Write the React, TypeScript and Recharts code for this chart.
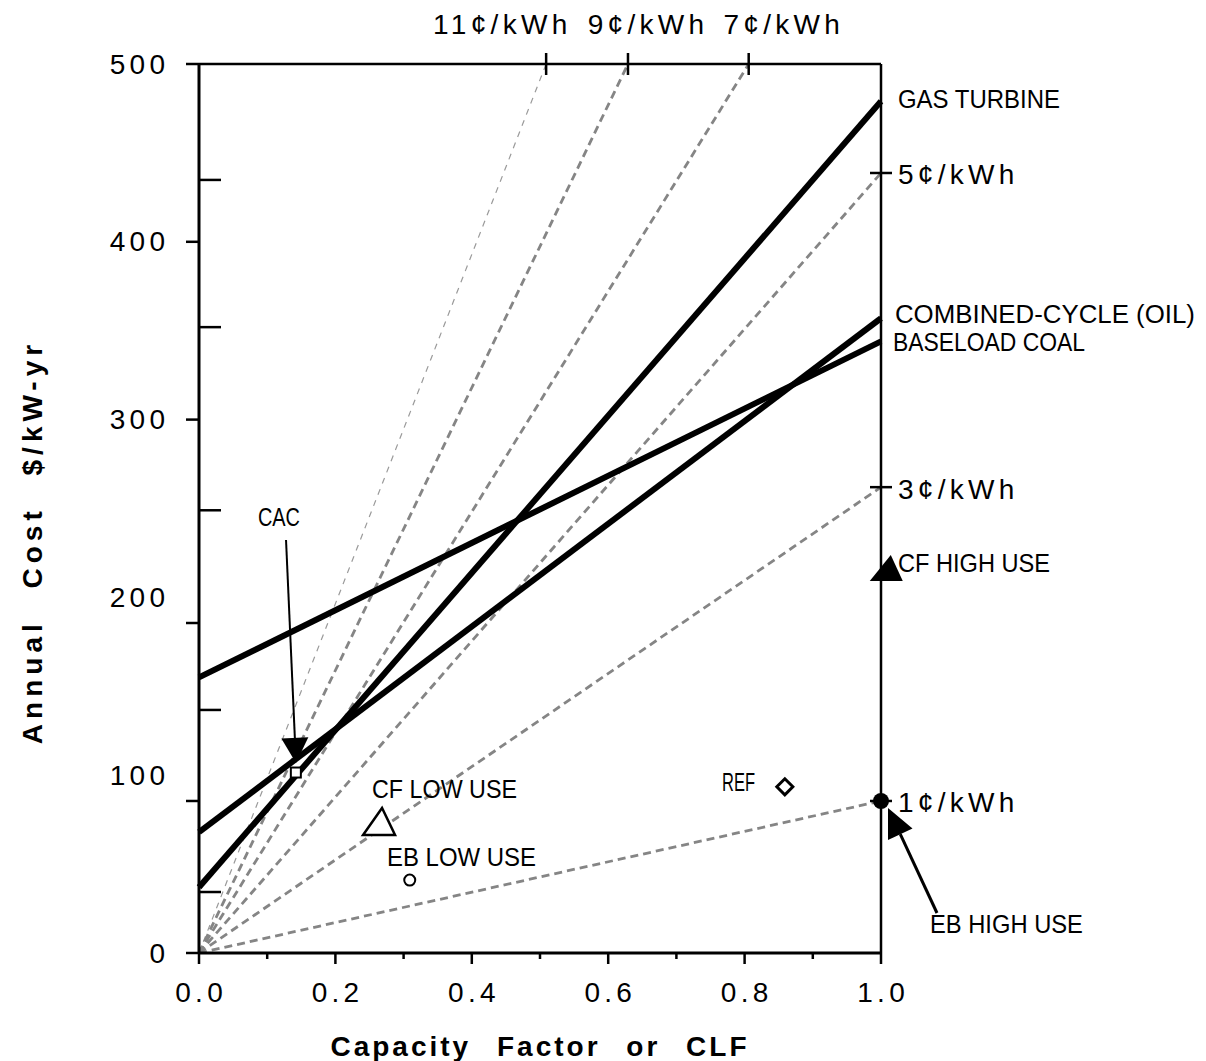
import React from "react";
import {
  ComposedChart,
  Line,
  ReferenceDot,
  ReferenceLine,
  Scatter,
  XAxis,
  YAxis,
} from "recharts";

// bottom axis: capacity factor
const cfTicks = [0, 0.1, 0.2, 0.3, 0.4, 0.5, 0.6, 0.7, 0.8, 0.9, 1.0];

// left axis: annual cost, labels and the (irregular) tick marks of the original
const costLabels = [0, 100, 200, 300, 400, 500];
const costMajorMarks = [0, 85.5, 185.6, 300, 400, 500];
const costMinorMarks = [34.3, 136.7, 249, 352, 434.8];

// price lines hit the top edge / right edge here
const topPriceTicks = [0.509, 0.629, 0.806];
const topPriceLabels = ["11¢/kWh", "9¢/kWh", "7¢/kWh"];
const rightPriceTicks = [438.7, 262, 85.5];
const rightPriceLabels = ["5¢/kWh", "3¢/kWh", "1¢/kWh"];

// generation technologies
const gasTurbine = [
  { cf: 0, cost: 37 },
  { cf: 1, cost: 479 },
];
const combinedCycle = [
  { cf: 0, cost: 68 },
  { cf: 1, cost: 357 },
];
const baseloadCoal = [
  { cf: 0, cost: 155 },
  { cf: 1, cost: 344 },
];

// constant-price lines from the origin
const price1 = [
  { cf: 0, cost: 0 },
  { cf: 1, cost: 85.5 },
];
const price3 = [
  { cf: 0, cost: 0 },
  { cf: 1, cost: 262 },
];
const price5 = [
  { cf: 0, cost: 0 },
  { cf: 1, cost: 438.7 },
];
const price7 = [
  { cf: 0, cost: 0 },
  { cf: 0.806, cost: 500 },
];
const price9 = [
  { cf: 0, cost: 0 },
  { cf: 0.629, cost: 500 },
];
const price11 = [
  { cf: 0, cost: 0 },
  { cf: 0.509, cost: 500 },
];

// end uses
const cacPoint = [{ cf: 0.142, cost: 101.5 }];
const cfLowUse = [{ cf: 0.264, cost: 74 }];
const ebLowUse = [{ cf: 0.309, cost: 41 }];
const refPoint = [{ cf: 0.859, cost: 93.5 }];
const ebHighUse = [{ cf: 1.0, cost: 85.5 }];
const cfHighUse = { cf: 1.007, cost: 216.5 };

// arrows: tail -> tip
const cacArrow = [
  { cf: 0.1276, cost: 232.3 },
  { cf: 0.1422, cost: 106.9 },
];
const ebArrow = [
  { cf: 1.0821, cost: 22.5 },
  { cf: 1.0103, cost: 81.6 },
];

const noteTexts = [
  "GAS TURBINE",
  "COMBINED-CYCLE (OIL)",
  "BASELOAD COAL",
  "CF HIGH USE",
  "EB HIGH USE",
  "CAC",
  "CF LOW USE",
  "EB LOW USE",
  "REF",
];

// layout of the annotation texts (left edge, vertical middle) and their widths
const NOTE_ANCHORS = [
  { cf: 1.0249, cost: 480.3 },
  { cf: 1.0205, cost: 359.4 },
  { cf: 1.0176, cost: 343.6 },
  { cf: 1.0249, cost: 219.3 },
  { cf: 1.0718, cost: 16.3 },
  { cf: 0.0865, cost: 245.2 },
  { cf: 0.2537, cost: 92.2 },
  { cf: 0.2757, cost: 54.0 },
  { cf: 0.7669, cost: 96.2 },
];
const NOTE_WIDTHS = [162, 300, 192, 152, 153, 42, 145, 149, 33];
const TOP_LABEL_SHIFT = [-46, 18, 33];

const FONT = '"Liberation Sans", Arial, Helvetica, sans-serif';
const TICK_FONT = 28;
const TICK_SPACING = 4.3;

function CostTick(props: any) {
  const { x, y, payload } = props;
  const v = payload.value;
  return (
    <g>
      {costMajorMarks.includes(v) && (
        <line x1={x - 13} y1={y} x2={x} y2={y} stroke="#000" strokeWidth={2.5} />
      )}
      {costMinorMarks.includes(v) && (
        <line x1={x} y1={y} x2={x + 22} y2={y} stroke="#000" strokeWidth={2.5} />
      )}
      {costLabels.includes(v) && (
        <text
          x={x - 34 + TICK_SPACING}
          y={y}
          textAnchor="end"
          dominantBaseline="central"
          fontFamily={FONT}
          fontSize={TICK_FONT}
          letterSpacing={TICK_SPACING}
          fill="#000"
        >
          {v}
        </text>
      )}
    </g>
  );
}

function CfTick(props: any) {
  const { x, y, payload, index } = props;
  const major = index % 2 === 0;
  return (
    <g>
      <line x1={x} y1={y} x2={x} y2={y + (major ? 11 : 6)} stroke="#000" strokeWidth={2.5} />
      {major && (
        <text
          x={x + TICK_SPACING / 2}
          y={y + 39}
          textAnchor="middle"
          dominantBaseline="central"
          fontFamily={FONT}
          fontSize={TICK_FONT}
          letterSpacing={TICK_SPACING}
          fill="#000"
        >
          {payload.value.toFixed(1)}
        </text>
      )}
    </g>
  );
}

function TopPriceTick(props: any) {
  const { x, y, payload } = props;
  const i = topPriceTicks.indexOf(payload.value);
  return (
    <g>
      <line x1={x} y1={y - 11} x2={x} y2={y + 11} stroke="#000" strokeWidth={2.5} />
      <text
        x={x + (TOP_LABEL_SHIFT[i] ?? 0) + TICK_SPACING / 2}
        y={y - 40}
        textAnchor="middle"
        dominantBaseline="central"
        fontFamily={FONT}
        fontSize={TICK_FONT}
        letterSpacing={TICK_SPACING}
        fill="#000"
      >
        {topPriceLabels[i]}
      </text>
    </g>
  );
}

function RightPriceTick(props: any) {
  const { x, y, payload } = props;
  const i = rightPriceTicks.indexOf(payload.value);
  return (
    <g>
      <line x1={x - 11} y1={y} x2={x + 11} y2={y} stroke="#000" strokeWidth={2.5} />
      <text
        x={x + 17}
        y={y + 2}
        textAnchor="start"
        dominantBaseline="central"
        fontFamily={FONT}
        fontSize={TICK_FONT}
        letterSpacing={TICK_SPACING}
        fill="#000"
      >
        {rightPriceLabels[i]}
      </text>
    </g>
  );
}

function XTitle(props: any) {
  const vb = props.viewBox;
  return (
    <text
      x={vb.x + vb.width / 2}
      y={vb.y + 93}
      textAnchor="middle"
      dominantBaseline="central"
      fontFamily={FONT}
      fontSize={28}
      fontWeight="bold"
      letterSpacing={3}
      style={{ wordSpacing: 15 }}
      fill="#000"
    >
      Capacity Factor or CLF
    </text>
  );
}

function YTitle(props: any) {
  const vb = props.viewBox;
  const cx = vb.x + 32;
  const cy = vb.y + 478;
  return (
    <text
      x={cx}
      y={cy}
      transform={`rotate(-90 ${cx} ${cy})`}
      textAnchor="middle"
      dominantBaseline="central"
      fontFamily={FONT}
      fontSize={28}
      fontWeight="bold"
      letterSpacing={5}
      style={{ wordSpacing: 18 }}
      fill="#000"
    >
      Annual Cost $/kW-yr
    </text>
  );
}

const noteShape = (text: string, width: number) => (p: any) => (
  <text
    x={p.cx}
    y={p.cy}
    dominantBaseline="central"
    fontFamily={FONT}
    fontSize={25}
    textLength={width}
    lengthAdjust="spacingAndGlyphs"
    fill="#000"
  >
    {text}
  </text>
);

const arrowShape = (head: number, half: number, width: number) => (p: any) => {
  const { x1, y1, x2, y2 } = p;
  const dx = x2 - x1;
  const dy = y2 - y1;
  const len = Math.sqrt(dx * dx + dy * dy) || 1;
  const ux = dx / len;
  const uy = dy / len;
  const bx = x2 - ux * head;
  const by = y2 - uy * head;
  const pts = `${x2},${y2} ${bx - uy * half},${by + ux * half} ${bx + uy * half},${by - ux * half}`;
  return (
    <g>
      <line x1={x1} y1={y1} x2={bx} y2={by} stroke="#000" strokeWidth={width} />
      <polygon points={pts} fill="#000" />
    </g>
  );
};

const squareShape = (p: any) => (
  <rect x={p.cx - 5} y={p.cy - 5} width={10} height={10} fill="#fff" stroke="#000" strokeWidth={2} />
);
const openTriangleShape = (p: any) => (
  <polygon
    points={`${p.cx + 3},${p.cy - 13.5} ${p.cx - 16},${p.cy + 13.5} ${p.cx + 16},${p.cy + 13.5}`}
    fill="#fff"
    stroke="#000"
    strokeWidth={2.5}
  />
);
const openCircleShape = (p: any) => (
  <circle cx={p.cx} cy={p.cy} r={5.5} fill="#fff" stroke="#000" strokeWidth={2} />
);
const diamondShape = (p: any) => (
  <polygon
    points={`${p.cx},${p.cy - 8} ${p.cx + 8},${p.cy} ${p.cx},${p.cy + 8} ${p.cx - 8},${p.cy}`}
    fill="#fff"
    stroke="#000"
    strokeWidth={3}
  />
);
const filledCircleShape = (p: any) => <circle cx={p.cx} cy={p.cy} r={8} fill="#000" />;
const filledTriangleShape = (p: any) => (
  <polygon
    points={`${p.cx + 5},${p.cy - 13} ${p.cx - 16},${p.cy + 13} ${p.cx + 17},${p.cy + 13}`}
    fill="#000"
  />
);

const dashed = { stroke: "#858585", strokeWidth: 2.8, strokeDasharray: "8 5" };
const thick = { stroke: "#000", strokeWidth: 6 };

export default function App() {
  const allCostTicks = [...new Set([...costLabels, ...costMajorMarks, ...costMinorMarks])].sort(
    (a, b) => a - b
  );

  return (
    <div style={{ position: "absolute", left: 0, top: 0, width: 1206, height: 1061, background: "#fff" }}>
      <ComposedChart
        width={1206}
        height={1061}
        margin={{ top: 0, right: 0, bottom: 0, left: 0 }}
        style={{ fontFamily: FONT }}
      >
        <XAxis
          xAxisId={0}
          type="number"
          dataKey="cf"
          domain={[0, 1]}
          ticks={cfTicks}
          interval={0}
          tick={<CfTick />}
          tickLine={false}
          tickSize={0}
          tickMargin={0}
          axisLine={{ stroke: "#000", strokeWidth: 3 }}
          height={108}
          label={<XTitle />}
        />
        <XAxis
          xAxisId="top"
          orientation="top"
          type="number"
          dataKey="cf"
          domain={[0, 1]}
          allowDataOverflow
          ticks={topPriceTicks}
          interval={0}
          tick={<TopPriceTick />}
          tickLine={false}
          tickSize={0}
          tickMargin={0}
          axisLine={{ stroke: "#000", strokeWidth: 2.5 }}
          height={64}
        />
        <YAxis
          yAxisId={0}
          type="number"
          dataKey="cost"
          domain={[0, 500]}
          ticks={allCostTicks}
          interval={0}
          tick={<CostTick />}
          tickLine={false}
          tickSize={0}
          tickMargin={0}
          axisLine={{ stroke: "#000", strokeWidth: 3 }}
          width={199}
          label={<YTitle />}
        />
        <YAxis
          yAxisId="right"
          orientation="right"
          type="number"
          dataKey="cost"
          domain={[0, 500]}
          allowDataOverflow
          ticks={rightPriceTicks}
          interval={0}
          tick={<RightPriceTick />}
          tickLine={false}
          tickSize={0}
          tickMargin={0}
          axisLine={{ stroke: "#000", strokeWidth: 2.5 }}
          width={325}
        />

        <Line xAxisId="top" data={price11} dataKey="cost" stroke="#9a9a9a" strokeWidth={1.2} strokeDasharray="6 6" dot={false} activeDot={false} isAnimationActive={false} />
        <Line xAxisId="top" data={price9} dataKey="cost" {...dashed} dot={false} activeDot={false} isAnimationActive={false} />
        <Line xAxisId="top" data={price7} dataKey="cost" {...dashed} dot={false} activeDot={false} isAnimationActive={false} />
        <Line yAxisId="right" data={price5} dataKey="cost" {...dashed} dot={false} activeDot={false} isAnimationActive={false} />
        <Line yAxisId="right" data={price3} dataKey="cost" {...dashed} dot={false} activeDot={false} isAnimationActive={false} />
        <Line yAxisId="right" data={price1} dataKey="cost" {...dashed} dot={false} activeDot={false} isAnimationActive={false} />

        <Line data={baseloadCoal} dataKey="cost" {...thick} dot={false} activeDot={false} isAnimationActive={false} />
        <Line data={combinedCycle} dataKey="cost" {...thick} dot={false} activeDot={false} isAnimationActive={false} />
        <Line data={gasTurbine} dataKey="cost" {...thick} dot={false} activeDot={false} isAnimationActive={false} />

        <Scatter data={cacPoint} shape={squareShape} isAnimationActive={false} />
        <Scatter data={cfLowUse} shape={openTriangleShape} isAnimationActive={false} />
        <Scatter data={ebLowUse} shape={openCircleShape} isAnimationActive={false} />
        <Scatter data={refPoint} shape={diamondShape} isAnimationActive={false} />
        <Scatter data={ebHighUse} shape={filledCircleShape} isAnimationActive={false} />

        <ReferenceDot x={cfHighUse.cf} y={cfHighUse.cost} r={1} ifOverflow="visible" shape={filledTriangleShape} />

        <ReferenceLine
          segment={[
            { x: cacArrow[0].cf, y: cacArrow[0].cost },
            { x: cacArrow[1].cf, y: cacArrow[1].cost },
          ]}
          ifOverflow="visible"
          shape={arrowShape(25, 13.5, 2)}
        />
        <ReferenceLine
          segment={[
            { x: ebArrow[0].cf, y: ebArrow[0].cost },
            { x: ebArrow[1].cf, y: ebArrow[1].cost },
          ]}
          ifOverflow="visible"
          shape={arrowShape(29, 13.5, 3)}
        />

        {noteTexts.map((t, i) => (
          <ReferenceDot
            key={t}
            x={NOTE_ANCHORS[i].cf}
            y={NOTE_ANCHORS[i].cost}
            r={1}
            ifOverflow="visible"
            shape={noteShape(t, NOTE_WIDTHS[i])}
          />
        ))}
      </ComposedChart>
    </div>
  );
}
